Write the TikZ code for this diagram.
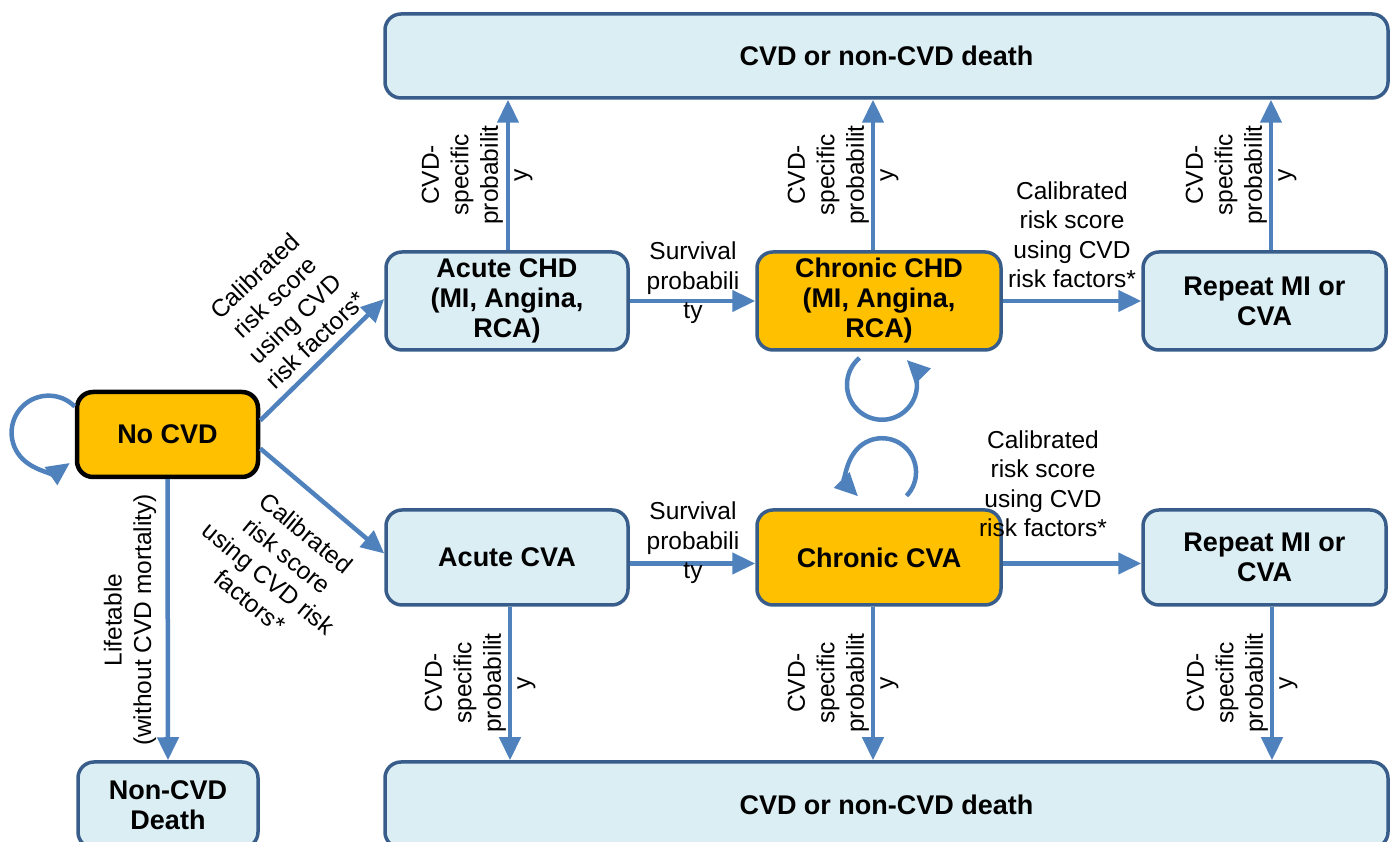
\documentclass[tikz,border=0pt]{standalone}
\usepackage{fontspec}
\setmainfont{Liberation Sans}
\usetikzlibrary{arrows.meta}
\definecolor{fillblue}{RGB}{219,238,244}
\definecolor{edgeblue}{RGB}{56,93,138}
\definecolor{arrblue}{RGB}{79,129,189}
\definecolor{orng}{RGB}{255,192,0}
\begin{document}
\begin{tikzpicture}[x=1pt,y=1pt,
  statebox/.style={draw=edgeblue, line width=3.5pt, fill=fillblue, rounded corners=16pt,
    inner sep=0pt, align=center, font=\fontsize{27}{30}\selectfont\bfseries},
  hot/.style={fill=orng},
  arr/.style={draw=arrblue, line width=4.5pt, -{Triangle[length=23pt,width=21pt]}},
  lab/.style={inner sep=0pt, align=center, font=\fontsize{24.5}{29.5}\selectfont}]
\useasboundingbox (0,0) rectangle (1393,842);

% states
\node[statebox, minimum width=1003pt, minimum height=84pt] (topdeath) at (886.5,786) {CVD or non-CVD death};
\node[statebox, minimum width=242pt, minimum height=98pt] (achd) at (507,541) {Acute CHD\\(MI, Angina,\\RCA)};
\node[statebox, hot, minimum width=244pt, minimum height=98pt] (cchd) at (879,541) {Chronic CHD\\(MI, Angina,\\RCA)};
\node[statebox, minimum width=243pt, minimum height=98pt] (rep1) at (1264.5,541) {Repeat MI or\\CVA};
\node[statebox, hot, draw=black, line width=4.5pt, minimum width=181pt, minimum height=85pt] (nocvd) at (167.5,407.5) {No CVD};
\node[statebox, minimum width=242pt, minimum height=95pt] (acva) at (507,284.5) {Acute CVA};
\node[statebox, hot, minimum width=244pt, minimum height=95pt] (ccva) at (879,284.5) {Chronic CVA};
\node[statebox, minimum width=243pt, minimum height=95pt] (rep2) at (1264.5,284.5) {Repeat MI or\\CVA};
\node[statebox, minimum width=1003pt, minimum height=86pt] (botdeath) at (886.5,37) {CVD or non-CVD death};
\node[statebox, minimum width=180pt, minimum height=86pt] (noncvd) at (168,37) {Non-CVD\\Death};

% vertical connectors to death
\coordinate (u1) at ([xshift=1pt]achd.north);
\coordinate (u2) at ([xshift=-6pt]cchd.north);
\coordinate (u3) at ([xshift=6.5pt]rep1.north);
\draw[arr] (u1) -- (u1 |- topdeath.south);
\draw[arr] (u2) -- (u2 |- topdeath.south);
\draw[arr] (u3) -- (u3 |- topdeath.south);
\coordinate (d1) at ([xshift=3pt]acva.south);
\coordinate (d2) at ([xshift=-6pt]ccva.south);
\coordinate (d3) at ([xshift=7.5pt]rep2.south);
\draw[arr] (d1) -- (d1 |- botdeath.north);
\draw[arr] (d2) -- (d2 |- botdeath.north);
\draw[arr] (d3) -- (d3 |- botdeath.north);

% horizontal connectors
\draw[arr] (achd.east) -- (cchd.west);
\draw[arr] (cchd.east) -- (rep1.west);
\coordinate (h3) at ([yshift=-6pt]acva.east);
\coordinate (h4) at ([yshift=-6pt]ccva.east);
\draw[arr] (h3) -- (h3 -| ccva.west);
\draw[arr] (h4) -- (h4 -| rep2.west);

% from No CVD
\draw[arr] ([yshift=14pt]nocvd.east) -- ([yshift=2pt]achd.west);
\draw[arr] ([yshift=-14pt]nocvd.east) -- ([yshift=4pt]acva.west);
\draw[arr] (nocvd.south) -- (noncvd.north);

% self loops
\draw[arr] ([shift={(0,28)}]nocvd.west) arc[start angle=45, end angle=305, radius=37];
\draw[arr] ([shift={(-19.5,-6.2)}]cchd.south) arc[start angle=130, end angle=405, radius=35];
\draw[arr] ([shift={(27.5,12.4)}]ccva.north) arc[start angle=-44, end angle=225, radius=34];

% labels
\node[lab, rotate=90] (lt1) at (477,667) {CVD-\\specific\\probabilit\\y};
\node[lab, rotate=90] (lt2) at (843,667) {CVD-\\specific\\probabilit\\y};
\node[lab, rotate=90] (lt3) at (1241,667) {CVD-\\specific\\probabilit\\y};
\node[lab, rotate=90] (lb1) at (480,159) {CVD-\\specific\\probabilit\\y};
\node[lab, rotate=90] (lb2) at (843,159) {CVD-\\specific\\probabilit\\y};
\node[lab, rotate=90] (lb3) at (1242,159) {CVD-\\specific\\probabilit\\y};
\node[lab] (ls1) at (693,559) {Survival\\probabili\\ty};
\node[lab] (ls2) at (693,299) {Survival\\probabili\\ty};
\node[lab] (lc1) at (1072,607) {Calibrated\\risk score\\using CVD\\risk factors*};
\node[lab] (lc2) at (1043,358) {Calibrated\\risk score\\using CVD\\risk factors*};
\node[lab, rotate=43.6] (lc3) at (285,534) {Calibrated\\risk score\\using CVD\\risk factors*};
\node[lab, rotate=-39.4] (lc4) at (278,275) {Calibrated\\risk score\\using CVD risk\\factors*};
\node[lab, rotate=90] (llt) at (130,222) {Lifetable\\(without CVD mortality)};
\end{tikzpicture}
\end{document}
